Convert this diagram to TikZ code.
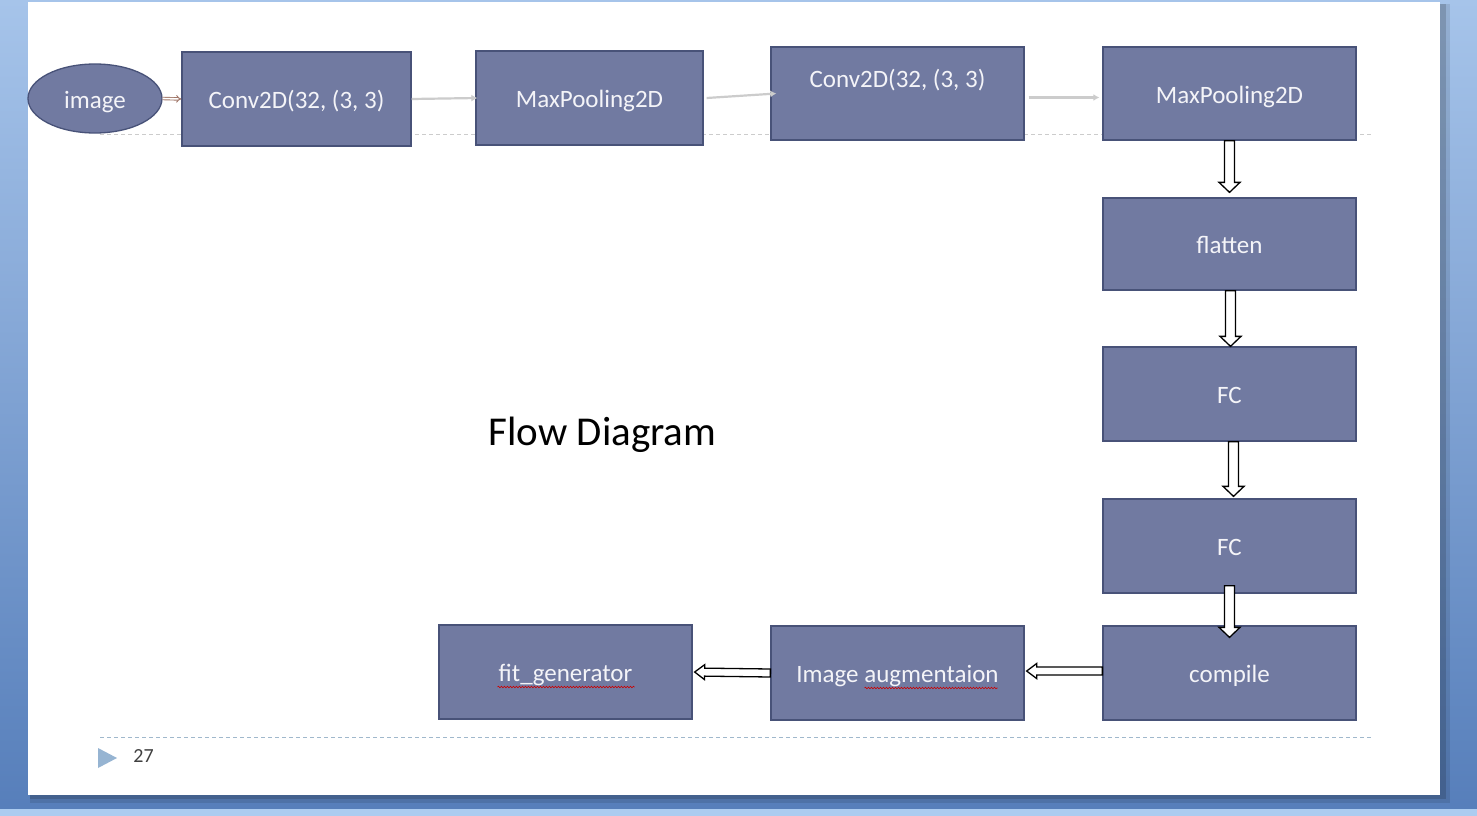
\documentclass[tikz,border=0pt]{standalone}
\usepackage{fontspec}
\setmainfont{Carlito}
\usetikzlibrary{arrows.meta,calc,positioning,shapes.geometric,decorations.pathmorphing}
\definecolor{bgtop}{RGB}{166,196,234}
\definecolor{bgbot}{RGB}{86,126,186}
\definecolor{bgline}{RGB}{172,204,240}
\definecolor{boxfill}{RGB}{113,122,161}
\definecolor{boxedge}{RGB}{72,82,120}
\definecolor{boxtext}{RGB}{244,244,248}
\definecolor{linkbrown}{RGB}{160,118,104}
\definecolor{dashblue}{RGB}{160,184,204}
\definecolor{pagetri}{RGB}{150,180,210}

% hollow block arrow: from, to, half shaft, half head, head length
\newcommand\hollowarrow[5]{%
  \coordinate (hb) at ($(#2)!#5!(#1)$);
  \draw[hollow] ($(#1)!#3!90:(#2)$) -- ($(hb)!#3!-90:(#1)$) -- ($(hb)!#4!-90:(#1)$)
    -- (#2) -- ($(hb)!#4!90:(#1)$) -- ($(hb)!#3!90:(#1)$) -- ($(#1)!#3!-90:(#2)$) -- cycle;}

\begin{document}
\begin{tikzpicture}[x=1pt,y=-1pt,
    blk/.style={draw=boxedge,fill=boxfill,line width=1.3pt,minimum width=253,
      minimum height=94,inner sep=0,text=boxtext,text height=22pt,text depth=3pt,
      font=\fontsize{25}{30}\selectfont},
    thinlink/.style={draw=gray!40,line width=2.2pt,-{Latex[length=6pt,width=7pt]}},
    hollow/.style={draw=black,fill=white,line width=1.3pt,line join=miter},
    squig/.style={draw=red!80!black,line width=.6pt,decorate,
      decoration={snake,amplitude=.8pt,segment length=3pt}}]
    \useasboundingbox (0,0) rectangle (1477,816);
    % slide background
    \shade[top color=bgtop,bottom color=bgbot] (0,0) rectangle (1477,816);
    \fill[bgline] (0,809) rectangle (1477,816);
    \fill[black,opacity=.1] (30,4) rectangle (1450,803);
    \fill[black,opacity=.15] (30,4) rectangle (1446,799);
    \fill[white] (28,2) rectangle (1440,795);
    \draw[gray!40,dash pattern=on 4pt off 3pt] (100,134) -- (1372,134);
    \draw[dashblue,dash pattern=on 4pt off 3pt] (100,737) -- (1372,737);

    % top row
    \node[blk,ellipse,minimum width=134,minimum height=69] (img) at (95,98.5) {image};
    \node[blk,minimum width=229] (cv1) at (296.5,99) {Conv2D(32, (3, 3)};
    \node[blk,minimum width=227] (mp1) at (589.5,98) {MaxPooling2D};
    \node[blk,minimum height=93,label={[text=boxtext,font=\fontsize{25}{30}\selectfont,
      yshift=13pt]center:Conv2D(32, (3, 3)}] (cv2) at (897.5,93.5) {};
    \node[blk,minimum height=93] (mp2) at (1229.5,93.5) {MaxPooling2D};

    % right column
    \node[blk,minimum height=92] (fl) at (1229.5,244) {flatten};
    \node[blk] (fc1) at (1229.5,394) {FC};
    \node[blk] (fc2) at (1229.5,546) {FC};
    \node[blk] (cp) at (1229.5,673) {compile};

    % bottom row
    \node[blk] (aug) at (897.5,673) {Image augmentaion};
    \node[blk] (fg) at (565.5,672) {fit\_generator};
    \draw[squig] ($(fg.center)+(-68,15)$) -- ($(fg.center)+(69,15)$);
    \draw[squig] ($(aug.center)+(-33,15)$) -- ($(aug.center)+(100,15)$);

    \node[font=\fontsize{41}{48}\selectfont] (title) at (602.5,435) {Flow Diagram};
    \fill[pagetri] (98,748) -- (117,758) -- (98,768) -- cycle;
    \node[text=black!75,font=\fontsize{20}{24}\selectfont] (pg) at (143.5,756) {27};

    % links
    \draw[linkbrown,double=white,double distance=1.6pt,line width=.9pt,-{Implies}]
      (img.east) -- (cv1.west);
    \draw[thinlink] (cv1.east) -- ([xshift=2]mp1.west);
    \draw[thinlink] ([xshift=3]mp1.east) -- ([xshift=6]cv2.west);
    \draw[thinlink] ([xshift=4,yshift=-4]cv2.east) -- ([xshift=-3,yshift=-4]mp2.west);

    \coordinate (a1) at (mp2.south);
    \coordinate (b1) at ([yshift=5]fl.north);
    \coordinate (a2) at ([xshift=1]fl.south);
    \coordinate (b2) at ([xshift=1]fc1.north);
    \coordinate (a3) at ([xshift=4]fc1.south);
    \coordinate (b3) at ([xshift=4,yshift=2]fc2.north);
    \coordinate (a4) at ([yshift=8]fc2.south);
    \coordinate (b4) at ([yshift=-12]cp.north);
    \coordinate (a5) at ([yshift=2]cp.west);
    \coordinate (b5) at ([xshift=2,yshift=2]aug.east);
    \coordinate (a6) at (aug.west);
    \coordinate (b6) at ([xshift=2]fg.east);
    \hollowarrow{a1}{b1}{5pt}{10.5pt}{10pt}
    \hollowarrow{a2}{b2}{5pt}{10.5pt}{10pt}
    \hollowarrow{a3}{b3}{5pt}{10.5pt}{10pt}
    \hollowarrow{a4}{b4}{5pt}{10.5pt}{10pt}
    \hollowarrow{a5}{b5}{4pt}{7.5pt}{10pt}
    \hollowarrow{a6}{b6}{4pt}{7.5pt}{10pt}
  \end{tikzpicture}
\end{document}
